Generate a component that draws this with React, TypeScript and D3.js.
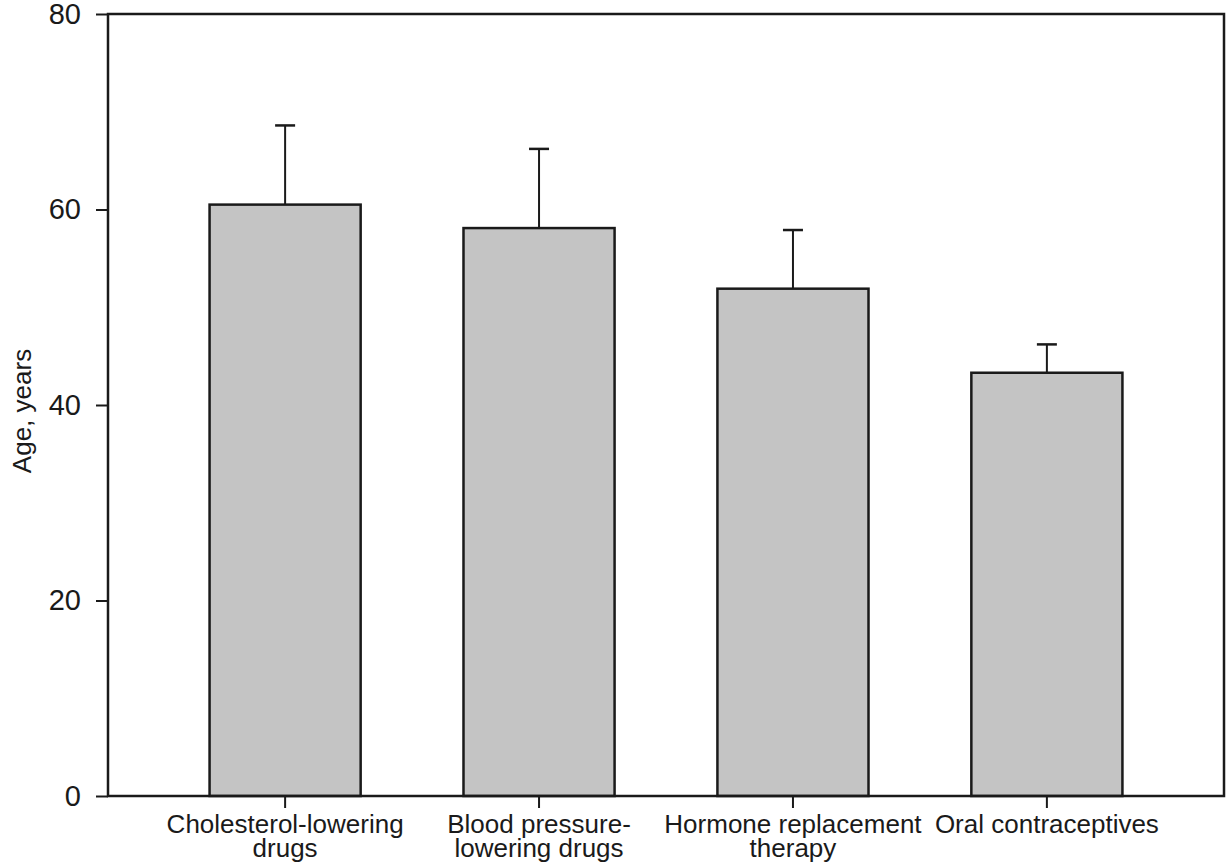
import React, { useEffect, useRef } from "react";
import { axisBottom, axisLeft, scaleBand, scaleLinear, select } from "d3";

// mean age with upper SD whisker
const categories = [
  "Cholesterol-lowering drugs",
  "Blood pressure-lowering drugs",
  "Hormone replacement therapy",
  "Oral contraceptives"
];
const labelLines = [
  ["Cholesterol-lowering", "drugs"],
  ["Blood pressure-", "lowering drugs"],
  ["Hormone replacement", "therapy"],
  ["Oral contraceptives"]
];
const meanAge = [60.5, 58.1, 51.9, 43.3];
const sdAge = [8.1, 8.1, 6.0, 2.9];
const yTicks = [0, 20, 40, 60, 80];

const width = 1228,
  height = 867;
const left = 108,
  right = 1224,
  top = 14,
  bottom = 796;
const font = "'Liberation Sans', Arial, sans-serif";

export default function App() {
  const xAxisRef = useRef<SVGGElement>(null);
  const yAxisRef = useRef<SVGGElement>(null);

  const x = scaleBand<string>()
    .domain(categories)
    .range([left, right])
    .paddingInner(0.405)
    .paddingOuter(0.4);

  const y = scaleLinear().domain([0, 80]).range([bottom, top]);

  useEffect(() => {
    const yAxis = axisLeft(y).tickValues(yTicks).tickSize(12).tickPadding(15);
    const gy = select(yAxisRef.current!).call(yAxis);
    gy.select(".domain").remove();
    gy.selectAll(".tick line").attr("stroke", "#1a1a1a").attr("stroke-width", 2);
    gy.selectAll(".tick text")
      .attr("font-family", font)
      .attr("font-size", 29)
      .attr("fill", "#1a1a1a");

    const xAxis = axisBottom(x).tickSize(12).tickFormat(() => "");
    const gx = select(xAxisRef.current!).call(xAxis);
    gx.select(".domain").remove();
    gx.selectAll(".tick line").attr("stroke", "#1a1a1a").attr("stroke-width", 2);
  }, [x, y]);

  return (
    <svg
      width={width}
      height={height}
      style={{ position: "absolute", left: 0, top: 0, background: "#fff" }}
    >
      {categories.map((c, i) => {
        const cx = x(c)! + x.bandwidth() / 2;
        return (
          <g key={c}>
            <line
              x1={cx}
              x2={cx}
              y1={y(meanAge[i])}
              y2={y(meanAge[i] + sdAge[i])}
              stroke="#1a1a1a"
              strokeWidth={2}
            />
            <line
              x1={cx - 10}
              x2={cx + 10}
              y1={y(meanAge[i] + sdAge[i])}
              y2={y(meanAge[i] + sdAge[i])}
              stroke="#1a1a1a"
              strokeWidth={2.5}
            />
            <rect
              x={x(c)}
              y={y(meanAge[i])}
              width={x.bandwidth()}
              height={y(0) - y(meanAge[i])}
              fill="#c4c4c4"
              stroke="#1a1a1a"
              strokeWidth={2.5}
            />
          </g>
        );
      })}
      <rect
        x={left}
        y={top}
        width={right - left}
        height={bottom - top}
        fill="none"
        stroke="#1a1a1a"
        strokeWidth={2.5}
      />
      <g ref={yAxisRef} transform={`translate(${left},0)`} />
      <g ref={xAxisRef} transform={`translate(0,${bottom})`} />
      {categories.map((c, i) => (
        <text
          key={c}
          x={x(c)! + x.bandwidth() / 2}
          y={833}
          textAnchor="middle"
          fontFamily={font}
          fontSize={26}
          fill="#1a1a1a"
        >
          {labelLines[i].map((line, j) => (
            <tspan key={j} x={x(c)! + x.bandwidth() / 2} dy={j === 0 ? 0 : 24}>
              {line}
            </tspan>
          ))}
        </text>
      ))}
      <text
        transform={`translate(31,${411}) rotate(-90)`}
        textAnchor="middle"
        fontFamily={font}
        fontSize={26}
        fill="#1a1a1a"
      >
        Age, years
      </text>
    </svg>
  );
}
